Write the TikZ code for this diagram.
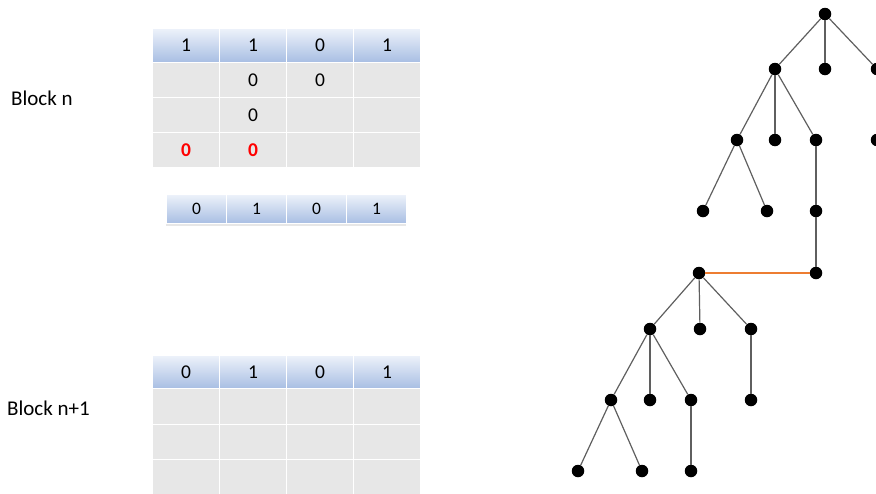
\documentclass[tikz,border=0pt]{standalone}
\usepackage{fontspec}
\setmainfont{Carlito}
\definecolor{cellgrey}{RGB}{231,231,231}
\definecolor{hdrtop}{RGB}{237,242,250}
\definecolor{hdrbot}{RGB}{168,190,227}
\definecolor{edgegrey}{RGB}{95,95,95}
\definecolor{orangeline}{RGB}{237,125,49}
\definecolor{redtext}{RGB}{255,0,0}
\begin{document}
\begin{tikzpicture}[x=1pt,y=-1pt,
  cell/.style={rectangle, draw=white, line width=1pt, fill=cellgrey,
    minimum width=67pt, minimum height=35pt, inner sep=0pt, anchor=north west,
    font=\fontsize{19.5}{19.5}\selectfont},
  hdr/.style={cell, top color=hdrtop, bottom color=hdrbot, minimum height=34pt},
  smallhdr/.style={hdr, minimum width=60pt, minimum height=29pt, font=\fontsize{17.5}{17.5}\selectfont},
  redzero/.style={text=redtext, font=\fontsize{19.5}{19.5}\selectfont\bfseries},
  label/.style={anchor=base west, inner sep=0pt, font=\fontsize{21}{21}\selectfont},
  dot/.style={circle, fill=black, inner sep=0pt, minimum size=12.5pt},
  edge/.style={draw=edgegrey, line width=1.2pt},
  link/.style={draw=orangeline, line width=1.6pt}]
\clip (0,0) rectangle (876,493);
\useasboundingbox (0,0) rectangle (876,493);

% labels
\node[label] (bn) at (11,105) {Block n};
\node[label] (bn1) at (7,415) {Block n+1};

% Table 1 (Block n)
\node[hdr] (ta-h1) at (152,28) {1};
\node[hdr] (ta-h2) at (219,28) {1};
\node[hdr] (ta-h3) at (286,28) {0};
\node[hdr] (ta-h4) at (353,28) {1};
\node[cell] (ta-11) at (152,62) {};
\node[cell] (ta-12) at (219,62) {0};
\node[cell] (ta-13) at (286,62) {0};
\node[cell] (ta-14) at (353,62) {};
\node[cell] (ta-21) at (152,97) {};
\node[cell] (ta-22) at (219,97) {0};
\node[cell] (ta-23) at (286,97) {};
\node[cell] (ta-24) at (353,97) {};
\node[cell,redzero] (ta-31) at (152,132) {0};
\node[cell,redzero] (ta-32) at (219,132) {0};
\node[cell] (ta-33) at (286,132) {};
\node[cell] (ta-34) at (353,132) {};

% Table 2 (small)
\node[smallhdr] (tb-h1) at (166,194) {0};
\node[smallhdr] (tb-h2) at (226,194) {1};
\node[smallhdr] (tb-h3) at (286,194) {0};
\node[smallhdr] (tb-h4) at (346,194) {1};
\fill[cellgrey] (166,224) rectangle (406,226);

% Table 3 (Block n+1)
\node[hdr,minimum height=33pt] (tc-h1) at (152,355) {0};
\node[hdr,minimum height=33pt] (tc-h2) at (219,355) {1};
\node[hdr,minimum height=33pt] (tc-h3) at (286,355) {0};
\node[hdr,minimum height=33pt] (tc-h4) at (353,355) {1};
\node[cell,minimum height=36pt] (tc-11) at (152,388) {};
\node[cell,minimum height=36pt] (tc-12) at (219,388) {};
\node[cell,minimum height=36pt] (tc-13) at (286,388) {};
\node[cell,minimum height=36pt] (tc-14) at (353,388) {};
\node[cell] (tc-21) at (152,424) {};
\node[cell] (tc-22) at (219,424) {};
\node[cell] (tc-23) at (286,424) {};
\node[cell] (tc-24) at (353,424) {};
\node[cell] (tc-31) at (152,459) {};
\node[cell] (tc-32) at (219,459) {};
\node[cell] (tc-33) at (286,459) {};
\node[cell] (tc-34) at (353,459) {};

% Top tree
\node[dot] (r) at (825,14) {};
\node[dot] (a) at (775,69) {};
\node[dot] (b) at (825,69) {};
\node[dot] (c) at (877,69) {};
\node[dot] (a1) at (737,140) {};
\node[dot] (a2) at (775,140) {};
\node[dot] (a3) at (816,140) {};
\node[dot] (c1) at (877,140) {};
\node[dot] (a11) at (703,211) {};
\node[dot] (a12) at (767,211) {};
\node[dot] (a31) at (816,211) {};
\node[dot] (a311) at (816,273) {};

% Bottom tree
\node[dot] (p) at (699,273) {};
\node[dot] (p1) at (650,329) {};
\node[dot] (p2) at (700,329) {};
\node[dot] (p3) at (751,329) {};
\node[dot] (p11) at (611,400) {};
\node[dot] (p12) at (650,400) {};
\node[dot] (p13) at (691,400) {};
\node[dot] (p31) at (751,400) {};
\node[dot] (p111) at (578,471) {};
\node[dot] (p112) at (642,471) {};
\node[dot] (p131) at (691,471) {};

% edges
\draw[edge] (r) -- (a);
\draw[edge] (r) -- (b);
\draw[edge] (r) -- (c);
\draw[edge] (a) -- (a1);
\draw[edge] (a) -- (a2);
\draw[edge] (a) -- (a3);
\draw[edge] (c) -- (c1);
\draw[edge] (a1) -- (a11);
\draw[edge] (a1) -- (a12);
\draw[edge] (a3) -- (a31);
\draw[edge] (a31) -- (a311);
\draw[edge] (p) -- (p1);
\draw[edge] (p) -- (p2);
\draw[edge] (p) -- (p3);
\draw[edge] (p1) -- (p11);
\draw[edge] (p1) -- (p12);
\draw[edge] (p1) -- (p13);
\draw[edge] (p3) -- (p31);
\draw[edge] (p11) -- (p111);
\draw[edge] (p11) -- (p112);
\draw[edge] (p13) -- (p131);
\draw[link] (p) -- (a311);
\end{tikzpicture}
\end{document}
